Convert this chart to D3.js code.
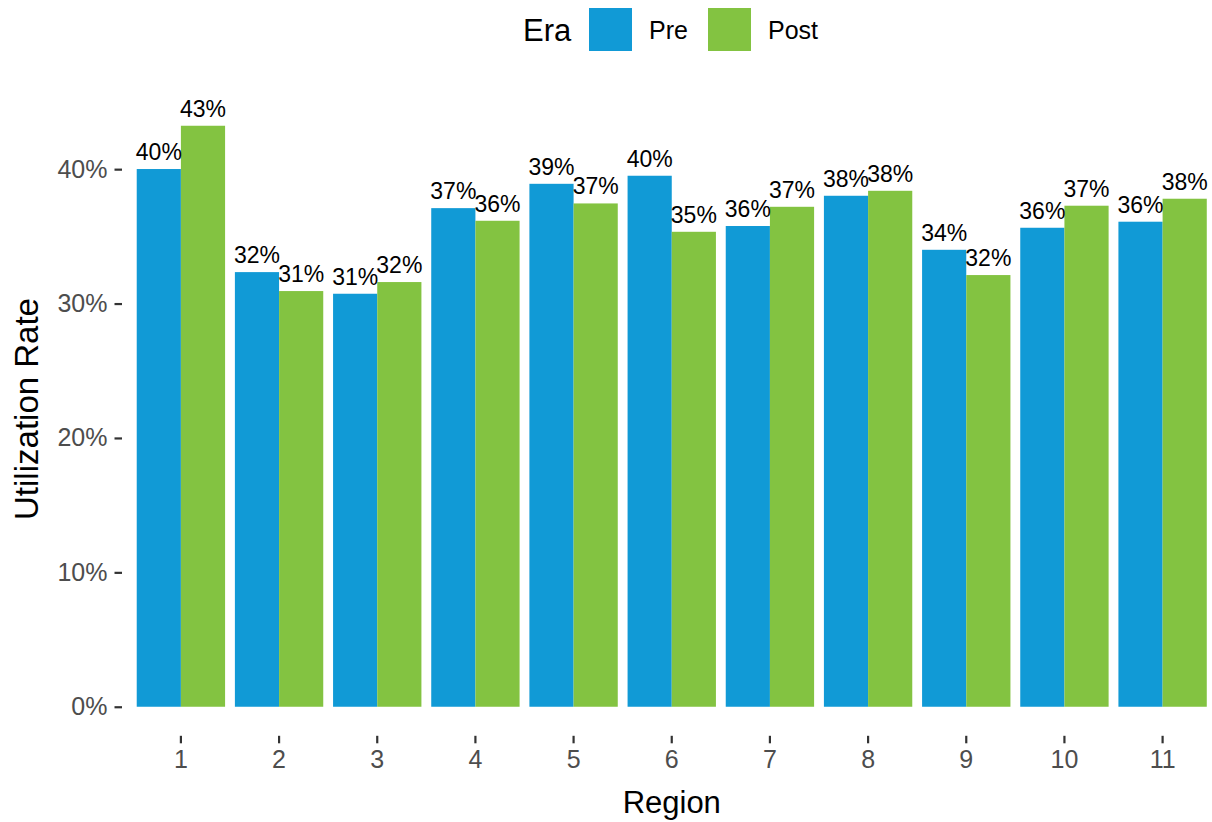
<!DOCTYPE html>
<html>
<head>
<meta charset="utf-8">
<script src="https://cdn.jsdelivr.net/npm/d3@7"></script>
<style>
  html, body { margin: 0; padding: 0; background: #ffffff; }
  svg { display: block; font-family: "Liberation Sans", Arial, Helvetica, sans-serif; }
</style>
</head>
<body>
<svg id="chart" width="1212" height="822"></svg>
<script>
// Utilization rate by region, before and after
const regions = ["1", "2", "3", "4", "5", "6", "7", "8", "9", "10", "11"];
const eras = ["Pre", "Post"];
const preValues  = [0.4001, 0.3234, 0.3073, 0.3710, 0.3891, 0.3951, 0.3577, 0.3802, 0.3400, 0.3564, 0.3609];
const postValues = [0.4323, 0.3093, 0.3160, 0.3616, 0.3745, 0.3534, 0.3720, 0.3839, 0.3212, 0.3728, 0.3780];
const yTicks = [0, 0.1, 0.2, 0.3, 0.4];
const eraColors = ["#119ad6", "#83c341"];

const rows = regions.map((r, i) => ({
  region: r,
  values: [
    { era: "Pre", value: preValues[i] },
    { era: "Post", value: postValues[i] }
  ]
}));

const svg = d3.select("#chart");

// panel box
const panel = { left: 122, right: 1221.5, top: 96.7, bottom: 735.8 };

const x = d3.scaleBand()
  .domain(regions)
  .range([panel.left, panel.right])
  .paddingInner(0.1)
  .paddingOuter(0.15);

const xEra = d3.scaleBand()
  .domain(eras)
  .range([0, x.bandwidth()])
  .padding(0);

const color = d3.scaleOrdinal().domain(eras).range(eraColors);

const maxV = d3.max(preValues.concat(postValues));
const pad = maxV * 0.05;
const y = d3.scaleLinear()
  .domain([-pad, maxV + pad])
  .range([panel.bottom, panel.top]);

const pct = d3.format(".0%");

// bars
const groups = svg.append("g")
  .selectAll("g")
  .data(rows)
  .join("g")
  .attr("transform", d => `translate(${x(d.region)},0)`);

groups.selectAll("rect")
  .data(d => d.values)
  .join("rect")
  .attr("x", d => xEra(d.era))
  .attr("width", xEra.bandwidth())
  .attr("y", d => y(d.value))
  .attr("height", d => y(0) - y(d.value))
  .attr("fill", d => color(d.era));

// value labels
groups.selectAll("text")
  .data(d => d.values)
  .join("text")
  .attr("x", d => xEra(d.era) + xEra.bandwidth() / 2)
  .attr("y", d => y(d.value) - 9)
  .attr("text-anchor", "middle")
  .attr("font-size", 23)
  .attr("fill", "#000000")
  .text(d => pct(d.value));

// y axis
const yAxis = d3.axisLeft(y)
  .tickValues(yTicks)
  .tickFormat(pct)
  .tickSizeInner(7.5)
  .tickSizeOuter(0)
  .tickPadding(7);

const gy = svg.append("g")
  .attr("transform", `translate(${panel.left},0)`)
  .call(yAxis);
gy.select(".domain").remove();
gy.selectAll(".tick line").attr("stroke", "#333333").attr("stroke-width", 2.2);
gy.selectAll(".tick text")
  .attr("fill", "#4d4d4d")
  .attr("font-size", 25)
  .attr("font-family", "\"Liberation Sans\", Arial, sans-serif");

// x axis
const xAxis = d3.axisBottom(x)
  .tickSizeInner(7.5)
  .tickSizeOuter(0)
  .tickPadding(7);

const gx = svg.append("g")
  .attr("transform", `translate(0,${panel.bottom})`)
  .call(xAxis);
gx.select(".domain").remove();
gx.selectAll(".tick line").attr("stroke", "#333333").attr("stroke-width", 2.2);
gx.selectAll(".tick text")
  .attr("fill", "#4d4d4d")
  .attr("font-size", 25)
  .attr("font-family", "\"Liberation Sans\", Arial, sans-serif");

// axis titles
svg.append("text")
  .attr("x", (panel.left + panel.right) / 2)
  .attr("y", 813)
  .attr("text-anchor", "middle")
  .attr("font-size", 31)
  .attr("fill", "#000000")
  .text("Region");

svg.append("text")
  .attr("transform", "translate(38,409) rotate(-90)")
  .attr("text-anchor", "middle")
  .attr("font-size", 33)
  .attr("fill", "#000000")
  .text("Utilization Rate");

// legend
const legend = svg.append("g");
legend.append("text")
  .attr("x", 523)
  .attr("y", 41)
  .attr("font-size", 31)
  .attr("fill", "#000000")
  .text("Era");

const keyX = [589, 708];
const items = legend.selectAll("g.item")
  .data(eras)
  .join("g")
  .attr("class", "item")
  .attr("transform", (d, i) => `translate(${keyX[i]},8)`);

items.append("rect")
  .attr("width", 43)
  .attr("height", 43)
  .attr("fill", d => color(d));

items.append("text")
  .attr("x", 60)
  .attr("y", 30.5)
  .attr("font-size", 25)
  .attr("fill", "#000000")
  .text(d => d);
</script>
</body>
</html>
